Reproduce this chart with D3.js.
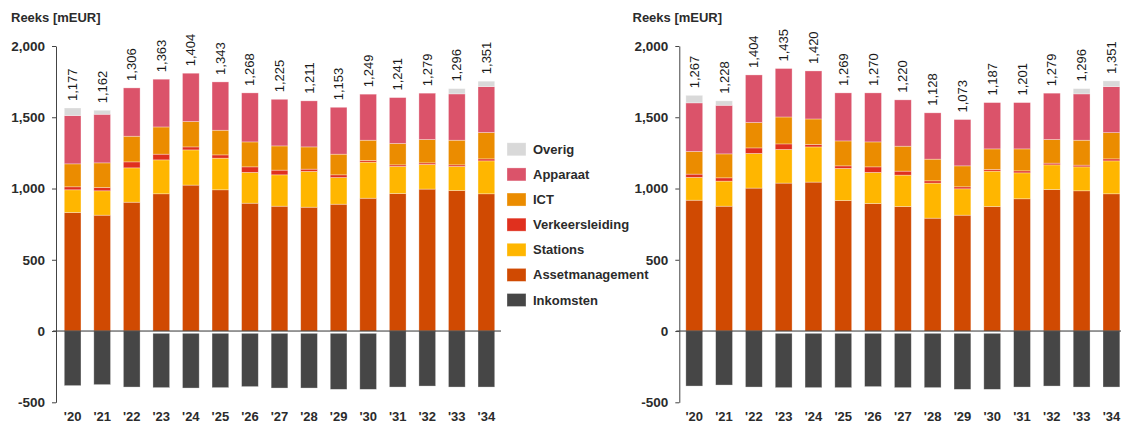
<!DOCTYPE html>
<html>
<head>
<meta charset="utf-8">
<script src="https://cdn.jsdelivr.net/npm/d3@7"></script>
<style>
  html, body { margin: 0; padding: 0; background: #fff; }
  svg { display: block; font-family: "Liberation Sans", Arial, sans-serif; }
</style>
</head>
<body>
<svg id="chart" width="1121" height="423"></svg>
<script>
// ---- data ----
const years = ["'20","'21","'22","'23","'24","'25","'26","'27","'28","'29","'30","'31","'32","'33","'34"];
const yTicks = [-500, 0, 500, 1000, 1500, 2000];
const seriesNames = ["Overig","Apparaat","ICT","Verkeersleiding","Stations","Assetmanagement","Inkomsten"];

// left chart
const totalsA    = [1177,1162,1306,1363,1404,1343,1268,1225,1211,1153,1249,1241,1279,1296,1351];
const assetA     = [832,813,904,963,1024,991,897,876,869,890,932,965,996,986,963];
const stationsA  = [159,171,241,238,247,222,216,220,251,187,253,190,173,169,231];
const verkeersA  = [21,23,42,40,21,23,39,33,16,19,12,11,11,11,14];
const ictA       = [161,173,180,191,178,173,175,170,156,145,142,150,164,173,185];
const apparaatA  = [339,341,339,335,339,339,344,327,323,329,323,322,325,325,322];
const overigA    = [53,28,0,0,0,0,0,0,0,0,0,0,0,37,38];
const gapA       = [0,0,0,-16,-16,-16,-16,-16,-16,-16,-16,0,0,0,0];
const inkomstenA = [-383,-376,-393,-381,-384,-381,-374,-384,-384,-393,-393,-393,-386,-393,-393];

// right chart
const totalsB    = [1267,1228,1404,1435,1420,1269,1270,1220,1128,1073,1187,1201,1279,1296,1351];
const assetB     = [918,876,1003,1038,1045,916,895,874,792,813,874,928,993,984,963];
const stationsB  = [160,176,243,236,247,225,218,220,246,185,248,182,173,168,231];
const verkeersB  = [23,23,39,39,17,18,39,28,16,14,12,14,12,12,14];
const ictB       = [159,168,178,189,179,175,175,175,152,147,144,154,166,175,184];
const apparaatB  = [341,341,334,340,337,337,344,325,325,325,325,325,325,325,323];
const overigB    = [53,31,0,0,0,0,0,0,0,0,0,0,0,37,40];
const gapB       = [0,0,0,-16,-16,-16,-16,-16,-16,-16,-16,0,0,0,0];
const inkomstenB = [-386,-379,-393,-381,-381,-381,-374,-381,-381,-393,-393,-393,-386,-393,-393];

const colors = {
  Overig: "#d9d9d9",
  Apparaat: "#db536a",
  ICT: "#eb8c00",
  Verkeersleiding: "#e0301e",
  Stations: "#ffb600",
  Assetmanagement: "#d04a02",
  Inkomsten: "#464646",
  gap: "none"
};

const stackKeys = ["Assetmanagement","Stations","Verkeersleiding","ICT","Apparaat","Overig","gap","Inkomsten"];

function buildRows(asset, stations, verkeers, ict, apparaat, overig, gap, ink) {
  return years.map((y, i) => ({
    year: y,
    Assetmanagement: asset[i], Stations: stations[i], Verkeersleiding: verkeers[i],
    ICT: ict[i], Apparaat: apparaat[i], Overig: overig[i], gap: gap[i], Inkomsten: ink[i]
  }));
}

const panels = [
  { rows: buildRows(assetA, stationsA, verkeersA, ictA, apparaatA, overigA, gapA, inkomstenA),
    totals: totalsA, axisX: 56, rangeEnd: 503, padOuter: 0.28, zeroEnd: 501, titleX: 11 },
  { rows: buildRows(assetB, stationsB, verkeersB, ictB, apparaatB, overigB, gapB, inkomstenB),
    totals: totalsB, axisX: 679.3, rangeEnd: 1126.4, padOuter: 0.22, zeroEnd: 1121, titleX: 632.5 }
];

const svg = d3.select("#chart");
const y = d3.scaleLinear().domain([-500, 2000]).range([402.3, 46]);
const textColor = "#2b2b2b";
const fmt = d => d3.format(",")(d).replace("\u2212", "-");

panels.forEach(p => {
  const g = svg.append("g");
  const x = d3.scaleBand().domain(years).range([p.axisX, p.rangeEnd])
    .paddingInner(0.435).paddingOuter(p.padOuter);

  const stacked = d3.stack().keys(stackKeys).offset(d3.stackOffsetDiverging)(p.rows);

  // bars
  stacked.forEach(s => {
    if (s.key === "gap") return;
    g.append("g").selectAll("rect")
      .data(s.filter(d => d[1] !== d[0]))
      .join("rect")
      .attr("x", d => x(d.data.year))
      .attr("width", x.bandwidth())
      .attr("y", d => y(Math.max(d[0], d[1])))
      .attr("height", d => Math.abs(y(d[0]) - y(d[1])))
      .attr("fill", colors[s.key])
      .attr("stroke", "rgba(255,255,255,0.45)")
      .attr("stroke-width", 0.7);
  });

  // value labels (rotated)
  const posTop = p.rows.map(r => r.Assetmanagement + r.Stations + r.Verkeersleiding + r.ICT + r.Apparaat + r.Overig);
  g.append("g").selectAll("text")
    .data(p.rows)
    .join("text")
    .attr("transform", (d, i) => `translate(${x(d.year) + x.bandwidth() / 2},${y(posTop[i]) - 7}) rotate(-90)`)
    .attr("text-anchor", "start")
    .attr("dominant-baseline", "central")
    .attr("font-size", 13)
    .attr("fill", "#1a1a1a")
    .text((d, i) => fmt(p.totals[i]));

  // zero line
  g.append("line")
    .attr("x1", p.axisX - 3).attr("x2", p.zeroEnd)
    .attr("y1", y(0)).attr("y2", y(0))
    .attr("stroke", "#333").attr("stroke-width", 1);

  // y axis
  const ax = g.append("g")
    .attr("transform", `translate(${p.axisX},0)`)
    .call(d3.axisLeft(y).tickValues(yTicks).tickFormat(fmt).tickSize(4).tickSizeOuter(0).tickPadding(7));
  ax.select(".domain").attr("stroke", "#444");
  ax.selectAll(".tick line").attr("stroke", "#444");
  ax.selectAll(".tick text")
    .attr("font-size", 13.5).attr("font-weight", "bold").attr("fill", textColor)
    .attr("font-family", "Liberation Sans, Arial, sans-serif");

  // x labels
  g.append("g").selectAll("text")
    .data(years)
    .join("text")
    .attr("x", d => x(d) + x.bandwidth() / 2)
    .attr("y", 420.5)
    .attr("text-anchor", "middle")
    .attr("font-size", 13)
    .attr("font-weight", "bold")
    .attr("fill", textColor)
    .text(d => d);

  // title
  g.append("text")
    .attr("x", p.titleX).attr("y", 22)
    .attr("font-size", 13).attr("font-weight", "bold").attr("fill", textColor)
    .text("Reeks [mEUR]");
});

// legend
const legend = svg.append("g");
const ly = d3.scalePoint().domain(seriesNames).range([149.3, 300]);
const lg = legend.selectAll("g").data(seriesNames).join("g")
  .attr("transform", d => `translate(507,${ly(d)})`);
lg.append("rect")
  .attr("x", 0).attr("y", -6.5).attr("width", 19).attr("height", 13)
  .attr("fill", d => colors[d])
  .attr("stroke", "rgba(255,255,255,0.45)").attr("stroke-width", 0.7);
lg.append("text")
  .attr("x", 26).attr("y", 0)
  .attr("dominant-baseline", "central")
  .attr("font-size", 13).attr("font-weight", "bold").attr("fill", textColor)
  .text(d => d);
</script>
</body>
</html>
